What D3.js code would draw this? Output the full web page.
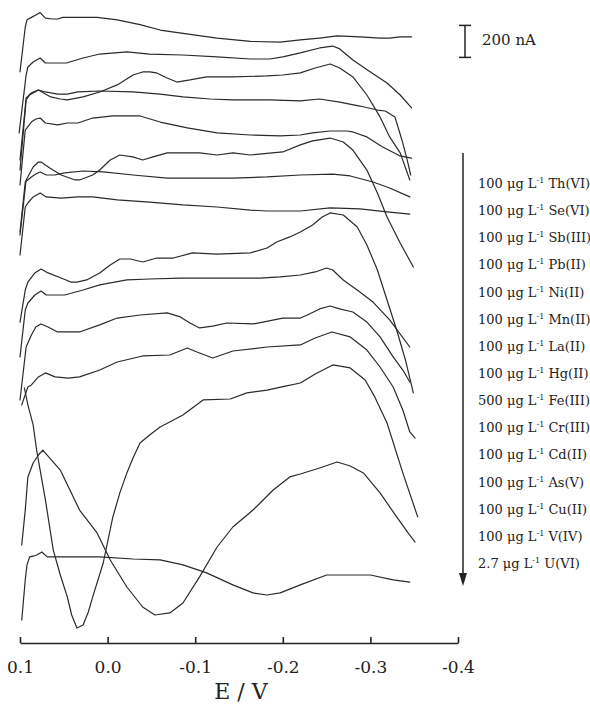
<!DOCTYPE html>
<html>
<head>
<meta charset="utf-8">
<script src="https://cdn.jsdelivr.net/npm/d3@7/dist/d3.min.js"></script>
<style>
  html, body { margin: 0; padding: 0; background: #fff; }
  svg { display: block; }
</style>
</head>
<body>
<svg id="chart" width="590" height="707"></svg>
<script>
// ---- Data: potential E (V) and stacked current I (nA) per voltammogram ----
const trace01 = [[0.100,3570],[0.094,3850],[0.092,3895],[0.087,3910],[0.082,3925],[0.077,3940],[0.071,3905],[0.063,3900],[0.057,3900],[0.051,3910],[0.034,3910],[0.012,3910],[-0.011,3895],[-0.037,3865],[-0.060,3831],[-0.086,3810],[-0.125,3781],[-0.163,3760],[-0.197,3756],[-0.220,3769],[-0.242,3781],[-0.262,3794],[-0.288,3788],[-0.311,3781],[-0.322,3781],[-0.334,3788],[-0.347,3788]];
const trace02 = [[0.101,3188],[0.093,3550],[0.091,3600],[0.085,3631],[0.077,3656],[0.071,3625],[0.060,3625],[0.047,3625],[0.028,3656],[0.009,3681],[-0.022,3694],[-0.048,3681],[-0.086,3675],[-0.125,3663],[-0.163,3650],[-0.185,3650],[-0.200,3663],[-0.220,3688],[-0.242,3719],[-0.257,3731],[-0.265,3713],[-0.280,3644],[-0.300,3569],[-0.319,3500],[-0.334,3425],[-0.347,3344]];
const trace03 = [[0.100,2956],[0.093,3394],[0.089,3425],[0.079,3456],[0.071,3431],[0.065,3413],[0.054,3400],[0.046,3394],[0.028,3413],[0.009,3444],[-0.011,3488],[-0.029,3550],[-0.040,3569],[-0.048,3569],[-0.056,3563],[-0.068,3531],[-0.079,3506],[-0.094,3519],[-0.113,3538],[-0.143,3538],[-0.182,3544],[-0.200,3550],[-0.220,3563],[-0.237,3594],[-0.254,3619],[-0.265,3594],[-0.280,3538],[-0.296,3425],[-0.311,3288],[-0.322,3163],[-0.334,3063],[-0.345,2894]];
const trace04 = [[0.100,3019],[0.093,3406],[0.087,3438],[0.079,3456],[0.071,3444],[0.057,3431],[0.046,3431],[0.034,3444],[0.009,3450],[-0.029,3444],[-0.060,3431],[-0.086,3413],[-0.117,3400],[-0.143,3394],[-0.185,3394],[-0.220,3388],[-0.242,3400],[-0.265,3381],[-0.288,3356],[-0.308,3331],[-0.317,3325],[-0.328,3288],[-0.336,3144],[-0.342,3019],[-0.346,2925]];
const trace05 = [[0.100,2863],[0.094,3206],[0.087,3256],[0.082,3275],[0.077,3281],[0.071,3250],[0.057,3238],[0.046,3250],[0.034,3250],[0.017,3281],[-0.006,3294],[-0.037,3294],[-0.060,3256],[-0.091,3219],[-0.125,3188],[-0.163,3175],[-0.197,3169],[-0.220,3175],[-0.234,3188],[-0.254,3200],[-0.273,3200],[-0.280,3194],[-0.296,3163],[-0.314,3100],[-0.334,3044],[-0.347,3031]];
const trace06 = [[0.100,2550],[0.093,2894],[0.085,2975],[0.079,3006],[0.076,3006],[0.071,2988],[0.066,2969],[0.053,2925],[0.037,2894],[0.032,2894],[0.017,2925],[0.009,2956],[-0.003,3019],[-0.014,3050],[-0.029,3038],[-0.040,3019],[-0.052,3038],[-0.068,3063],[-0.105,3063],[-0.125,3050],[-0.143,3063],[-0.163,3050],[-0.200,3069],[-0.220,3113],[-0.234,3138],[-0.254,3156],[-0.269,3131],[-0.280,3081],[-0.296,2956],[-0.308,2813],[-0.319,2663],[-0.334,2500],[-0.349,2350]];
const trace07 = [[0.100,2569],[0.094,2881],[0.087,2913],[0.082,2931],[0.077,2944],[0.070,2925],[0.060,2925],[0.049,2938],[0.028,2950],[0.005,2944],[-0.029,2925],[-0.068,2906],[-0.105,2906],[-0.143,2906],[-0.182,2913],[-0.220,2925],[-0.257,2931],[-0.277,2919],[-0.303,2881],[-0.322,2844],[-0.345,2788]];
const trace08 = [[0.100,2425],[0.094,2725],[0.091,2750],[0.085,2788],[0.077,2813],[0.070,2788],[0.053,2781],[0.034,2788],[0.017,2788],[-0.011,2769],[-0.048,2756],[-0.086,2738],[-0.125,2725],[-0.163,2706],[-0.182,2700],[-0.220,2700],[-0.254,2719],[-0.288,2713],[-0.319,2694],[-0.345,2681]];
const trace09 = [[0.100,2006],[0.094,2206],[0.091,2256],[0.083,2313],[0.076,2338],[0.068,2313],[0.053,2281],[0.042,2256],[0.035,2256],[0.024,2269],[0.009,2313],[-0.003,2363],[-0.014,2400],[-0.026,2400],[-0.040,2381],[-0.056,2406],[-0.075,2406],[-0.097,2438],[-0.125,2431],[-0.163,2438],[-0.182,2469],[-0.193,2506],[-0.208,2538],[-0.220,2569],[-0.234,2613],[-0.245,2663],[-0.254,2688],[-0.269,2675],[-0.285,2600],[-0.296,2488],[-0.308,2331],[-0.319,2144],[-0.330,1956],[-0.340,1769],[-0.349,1563]];
const trace10 = [[0.100,1788],[0.094,2081],[0.091,2125],[0.083,2175],[0.076,2200],[0.070,2175],[0.060,2175],[0.049,2175],[0.028,2206],[0.009,2238],[-0.022,2269],[-0.048,2275],[-0.083,2281],[-0.136,2281],[-0.174,2281],[-0.197,2288],[-0.220,2300],[-0.237,2319],[-0.250,2344],[-0.257,2331],[-0.269,2269],[-0.288,2194],[-0.303,2131],[-0.322,2019],[-0.345,1850]];
const trace11 = [[0.100,1519],[0.093,1850],[0.087,1925],[0.082,1975],[0.076,1994],[0.068,1975],[0.057,1944],[0.032,1944],[0.009,1988],[-0.011,2031],[-0.037,2050],[-0.068,2063],[-0.083,2038],[-0.094,2000],[-0.105,1969],[-0.120,1981],[-0.136,2000],[-0.166,1994],[-0.200,2031],[-0.220,2031],[-0.228,2050],[-0.242,2088],[-0.254,2106],[-0.265,2088],[-0.280,2069],[-0.296,2006],[-0.311,1913],[-0.326,1788],[-0.337,1706],[-0.345,1631]];
const trace12 = [[0.098,1488],[0.091,1600],[0.087,1613],[0.079,1663],[0.071,1688],[0.060,1663],[0.045,1656],[0.032,1663],[0.009,1706],[-0.011,1756],[-0.040,1794],[-0.071,1800],[-0.091,1844],[-0.102,1819],[-0.120,1781],[-0.143,1825],[-0.182,1850],[-0.220,1863],[-0.237,1906],[-0.256,1944],[-0.277,1913],[-0.296,1831],[-0.311,1725],[-0.326,1600],[-0.337,1456],[-0.345,1319],[-0.351,1281]];
const trace13 = [[0.095,1594],[0.091,1488],[0.085,1363],[0.081,1206],[0.071,894],[0.062,581],[0.054,425],[0.046,288],[0.041,175],[0.035,94],[0.028,113],[0.022,194],[0.017,288],[0.005,500],[-0.006,788],[-0.014,938],[-0.022,1063],[-0.029,1156],[-0.037,1250],[-0.048,1300],[-0.060,1350],[-0.086,1425],[-0.109,1519],[-0.140,1525],[-0.159,1563],[-0.182,1581],[-0.203,1606],[-0.220,1625],[-0.237,1681],[-0.257,1738],[-0.277,1719],[-0.294,1644],[-0.305,1538],[-0.319,1375],[-0.337,1063],[-0.354,788]];
const trace14 = [[0.098,613],[0.094,831],[0.091,1038],[0.085,1125],[0.079,1175],[0.074,1206],[0.066,1156],[0.054,1081],[0.043,956],[0.032,831],[0.012,688],[-0.003,519],[-0.022,350],[-0.040,225],[-0.054,175],[-0.071,188],[-0.086,250],[-0.105,413],[-0.125,600],[-0.143,725],[-0.166,831],[-0.189,956],[-0.208,1038],[-0.220,1056],[-0.242,1094],[-0.262,1131],[-0.277,1106],[-0.292,1063],[-0.311,938],[-0.330,788],[-0.343,688],[-0.351,631]];
const trace15 = [[0.098,144],[0.094,394],[0.092,488],[0.089,538],[0.084,544],[0.081,550],[0.075,569],[0.069,538],[0.046,538],[0.009,538],[-0.029,525],[-0.060,519],[-0.086,488],[-0.113,438],[-0.143,363],[-0.166,313],[-0.182,300],[-0.197,313],[-0.220,363],[-0.250,425],[-0.277,425],[-0.300,425],[-0.326,394],[-0.345,381]];

const traces = [trace01, trace02, trace03, trace04, trace05, trace06, trace07, trace08,
                trace09, trace10, trace11, trace12, trace13, trace14, trace15];

const concentrations = ["100","100","100","100","100","100","100","100","500","100","100","100","100","100","2.7"];
const species = ["Th(VI)","Se(VI)","Sb(III)","Pb(II)","Ni(II)","Mn(II)","La(II)","Hg(II)","Fe(III)","Cr(III)","Cd(II)","As(V)","Cu(II)","V(IV)","U(VI)"];

const xTicks = [0.1, 0.0, -0.1, -0.2, -0.3, -0.4];
const scaleBarNA = 200;
const scaleBarTop = 3860;   // nA level of the top of the scale bar
const xLabel = "E / V";

// ---- Scales ----
const svg = d3.select("#chart");
const x = d3.scaleLinear().domain([0.1, -0.4]).range([20, 458]);
const y = d3.scaleLinear().domain([0, 4000]).range([643, 3]);

const serif = "'DejaVu Serif', 'Liberation Serif', serif";

// ---- Traces ----
const line = d3.line().x(d => x(d[0])).y(d => y(d[1]));
svg.append("g")
  .selectAll("path")
  .data(traces)
  .join("path")
  .attr("d", line)
  .attr("fill", "none")
  .attr("stroke", "#2a2a2a")
  .attr("stroke-width", 1.2)
  .attr("stroke-linejoin", "round")
  .attr("stroke-linecap", "round");

// ---- X axis ----
const xAxis = d3.axisBottom(x)
  .tickValues(xTicks)
  .tickFormat(d => (Math.abs(d) < 1e-9 ? 0 : d).toFixed(1))
  .tickSizeInner(-6)
  .tickSizeOuter(0)
  .tickPadding(18);

const gx = svg.append("g").attr("transform", "translate(0,643)").call(xAxis);
gx.select(".domain").attr("stroke", "#222").attr("stroke-width", 1.6);
gx.selectAll(".tick line").attr("stroke", "#222").attr("stroke-width", 1.6);
gx.selectAll(".tick text")
  .attr("font-family", serif)
  .attr("font-size", 17)
  .attr("fill", "#222");

svg.append("text")
  .attr("x", 241)
  .attr("y", 699)
  .attr("text-anchor", "middle")
  .attr("font-family", serif)
  .attr("font-size", 22)
  .attr("fill", "#222")
  .text(xLabel);

// ---- Scale bar ----
const sbX = 465;
const sbTop = y(scaleBarTop), sbBot = y(scaleBarTop - scaleBarNA);
const sb = svg.append("g").attr("stroke", "#222").attr("stroke-width", 1.5);
sb.append("line").attr("x1", sbX).attr("x2", sbX).attr("y1", sbTop).attr("y2", sbBot);
sb.append("line").attr("x1", sbX - 6).attr("x2", sbX + 6).attr("y1", sbTop).attr("y2", sbTop);
sb.append("line").attr("x1", sbX - 6).attr("x2", sbX + 6).attr("y1", sbBot).attr("y2", sbBot);
svg.append("text")
  .attr("x", 482).attr("y", 45)
  .attr("font-family", serif).attr("font-size", 15).attr("fill", "#222")
  .text(scaleBarNA + " nA");

// ---- Legend arrow ----
const arrX = 463, arrTop = 153, arrTip = 586;
svg.append("line")
  .attr("x1", arrX).attr("x2", arrX).attr("y1", arrTop).attr("y2", arrTip - 8)
  .attr("stroke", "#222").attr("stroke-width", 1.5);
svg.append("path")
  .attr("d", `M${arrX - 4},${arrTip - 13} L${arrX + 4},${arrTip - 13} L${arrX},${arrTip} Z`)
  .attr("fill", "#222");

// ---- Legend labels ----
const lg = svg.append("g")
  .attr("font-family", serif)
  .attr("font-size", 13)
  .attr("fill", "#222");
species.forEach((s, i) => {
  const t = lg.append("text").attr("x", 478).attr("y", 188 + i * 27.14);
  t.append("tspan").text(concentrations[i] + " \u03bcg L");
  t.append("tspan").attr("font-size", 8).attr("dy", -5).text("-1");
  t.append("tspan").attr("dy", 5).text(" " + s);
});
</script>
</body>
</html>
